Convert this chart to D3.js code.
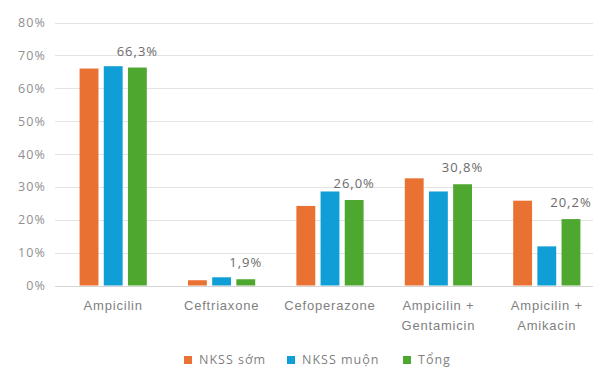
<!DOCTYPE html>
<html>
<head>
<meta charset="utf-8">
<script src="https://cdn.jsdelivr.net/npm/d3@7/dist/d3.min.js"></script>
<style>
  html, body { margin: 0; padding: 0; background: #fff; }
  svg { display: block; font-family: "Open Sans", "Noto Sans", sans-serif; }
</style>
</head>
<body>
<svg id="chart" width="593" height="368"></svg>
<script>
// Antibiotic usage rates by infection onset group
const categories = [["Ampicilin"], ["Ceftriaxone"], ["Cefoperazone"], ["Ampicilin +", "Gentamicin"], ["Ampicilin +", "Amikacin"]];
const seriesNames = ["NKSS sớm", "NKSS muộn", "Tổng"];
const nkssSom   = [66.0, 1.6, 24.2, 32.6, 25.8];
const nkssMuon  = [66.7, 2.5, 28.6, 28.6, 11.9];
const tong      = [66.3, 1.9, 26.0, 30.8, 20.2];
const totalLabels = ["66,3%", "1,9%", "26,0%", "30,8%", "20,2%"];
const yTicks = [0, 10, 20, 30, 40, 50, 60, 70, 80];
const colors = ["#E97132", "#0F9ED5", "#4EA72E"];

const series = [nkssSom, nkssMuon, tong];
const svg = d3.select("#chart");

const y = d3.scaleLinear().domain([0, 80]).range([285.5, 22.5]);
const x0 = d3.scaleBand().domain(d3.range(categories.length)).range([59, 601]).paddingInner(0.38).paddingOuter(0.19);
const x1 = d3.scaleBand().domain(d3.range(series.length)).range([0, x0.bandwidth()]).paddingInner(0.22);

// Gridlines
svg.append("g")
  .selectAll("line")
  .data(yTicks.filter(t => t > 0))
  .join("line")
  .attr("x1", 55).attr("x2", 593)
  .attr("y1", d => Math.round(y(d)) + 0.5).attr("y2", d => Math.round(y(d)) + 0.5)
  .attr("stroke", "#e3e3e3").attr("stroke-width", 1);

// Y axis labels
const yAxis = d3.axisLeft(y).tickValues(yTicks).tickFormat(d => d + "%").tickSize(0).tickPadding(0);
const gy = svg.append("g").attr("transform", "translate(46,0)").call(yAxis);
gy.select(".domain").remove();
gy.selectAll("text")
  .attr("fill", "#8f8f8f")
  .style("font-size", "12.5px")
  .style("letter-spacing", "1.1px")
  .style("font-family", "Open Sans, sans-serif");

// Bars
const groups = svg.append("g").selectAll("g")
  .data(categories.map((c, i) => i))
  .join("g")
  .attr("transform", i => `translate(${x0(i)},0)`);

groups.selectAll("rect")
  .data(i => series.map((s, k) => ({ k, v: s[i] })))
  .join("rect")
  .attr("x", d => x1(d.k))
  .attr("width", x1.bandwidth())
  .attr("y", d => y(d.v))
  .attr("height", d => y(0) - y(d.v))
  .attr("fill", d => colors[d.k]);

// Baseline
svg.append("line")
  .attr("x1", 55).attr("x2", 593)
  .attr("y1", Math.round(y(0)) + 0.5).attr("y2", Math.round(y(0)) + 0.5)
  .attr("stroke", "#d4d4d4");

// Total value labels above the green bars
groups.append("text")
  .attr("x", x1(2) + x1.bandwidth() / 2)
  .attr("y", i => y(tong[i]) - 12)
  .attr("text-anchor", "middle")
  .attr("fill", "#6b6b6b")
  .style("font-size", "13px")
  .style("letter-spacing", "1px")
  .text(i => totalLabels[i]);

// Category labels
const xAxis = d3.axisBottom(x0).tickSize(0).tickFormat(() => "");
const gx = svg.append("g").attr("transform", `translate(0,${y(0)})`).call(xAxis);
gx.select(".domain").remove();
gx.selectAll(".tick").each(function(i) {
  const t = d3.select(this).append("text")
    .attr("text-anchor", "middle")
    .attr("fill", "#7f7f7f")
    .style("font-size", "13px")
    .style("letter-spacing", "0.8px");
  categories[i].forEach((line, j) => {
    t.append("tspan").attr("x", 0).attr("y", 24 + j * 20).text(line);
  });
});

// Legend
const legendX = [184, 287, 403];
const legend = svg.append("g").selectAll("g")
  .data(seriesNames)
  .join("g")
  .attr("transform", (d, k) => `translate(${legendX[k]},356)`);
legend.append("rect").attr("width", 8).attr("height", 8).attr("fill", (d, k) => colors[k]);
legend.append("text")
  .attr("x", 15).attr("y", 8)
  .attr("fill", "#7f7f7f")
  .style("font-size", "12.5px")
  .style("letter-spacing", "1px")
  .text(d => d);
</script>
</body>
</html>
